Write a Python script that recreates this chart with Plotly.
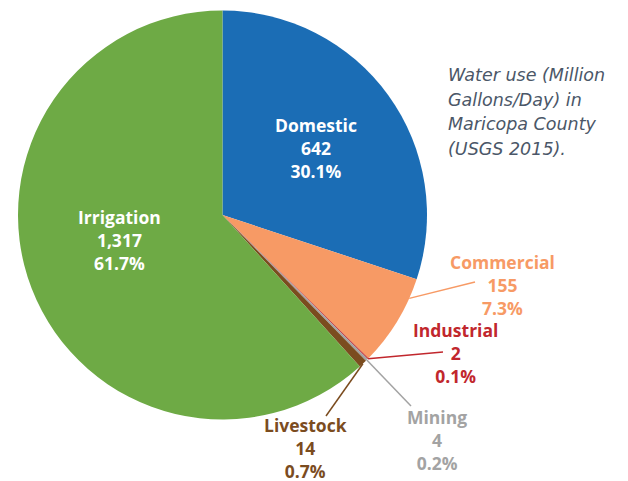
import math
import plotly.graph_objects as go

categories = ["Domestic", "Commercial", "Industrial", "Mining", "Livestock", "Irrigation"]
values = [642, 155, 2, 4, 14, 1317]
value_labels = ["642", "155", "2", "4", "14", "1,317"]
pct_labels = ["30.1%", "7.3%", "0.1%", "0.2%", "0.7%", "61.7%"]
colors = ["#1b6db5", "#f79a65", "#c1272d", "#a3a3a3", "#7b4c1f", "#6eaa45"]
text_colors = ["#ffffff", "#f79a65", "#c1272d", "#a3a3a3", "#7b4c1f", "#ffffff"]
title_lines = ["Water use (Million", "Gallons/Day) in", "Maricopa County", "(USGS 2015)."]

W, H = 628, 481
OFF = 8  # page body margin offset
CX, CY, R = 222.5, 215.0, 204.5
# label block centre (px) and leader-line end (px, or None for inside labels)
label_pos = [(316, 148), (502, 285), (456, 353), (437, 440), (305, 448), (120, 240)]
line_end = [None, (475, 282), (443, 352), (411, 406), (326, 416), None]
line_frac = [None, 0.22, 0.5, 0.5, 0.5, None]

FONT = "Open Sans"

def px(x, y):
    return (x - OFF) / W, 1 - (y - OFF) / H

dx0, dy1 = px(CX - R, CY - R)
dx1, dy0 = px(CX + R, CY + R)

fig = go.Figure(go.Pie(
    labels=categories, values=values, sort=False, direction="clockwise", rotation=0,
    marker=dict(colors=colors, line=dict(width=0)), textinfo="none", hoverinfo="label+value+percent",
    showlegend=False,
    domain=dict(x=[dx0, dx1], y=[dy0, dy1]),
))

total = sum(values)
cum = 0
annotations = []
shapes = []
for i, (cat, v) in enumerate(zip(categories, values)):
    ax, ay = px(*label_pos[i])
    annotations.append(dict(
        x=ax, y=ay, xref="paper", yref="paper", showarrow=False,
        text=f"{cat}<br>{value_labels[i]}<br>{pct_labels[i]}",
        font=dict(family=FONT, size=17.5, color=text_colors[i], weight=700), align="center",
        xanchor="center", yanchor="middle",
    ))
    if line_end[i] is not None:
        ang = 2 * math.pi * (cum + line_frac[i] * v) / total
        sx = CX + R * math.sin(ang)
        sy = CY - R * math.cos(ang)
        x0, y0 = px(sx, sy)
        x1, y1 = px(*line_end[i])
        shapes.append(dict(type="line", xref="paper", yref="paper", x0=x0, y0=y0, x1=x1, y1=y1,
                           line=dict(color=colors[i], width=1.5)))
    cum += v

for j, t in enumerate(title_lines):
    tx, ty = px(446, 75 + 24.5 * j)
    annotations.append(dict(
        x=tx, y=ty, xref="paper", yref="paper", showarrow=False, text=t,
        font=dict(family="DejaVu Sans", size=17.5, color="#4b5768", style="italic", weight=300),
        align="left", xanchor="left", yanchor="middle",
    ))

fig.update_layout(
    width=W, height=H, margin=dict(l=0, r=0, t=0, b=0),
    paper_bgcolor="white", plot_bgcolor="white",
    annotations=annotations, shapes=shapes,
)
fig.write_html("out.html")
